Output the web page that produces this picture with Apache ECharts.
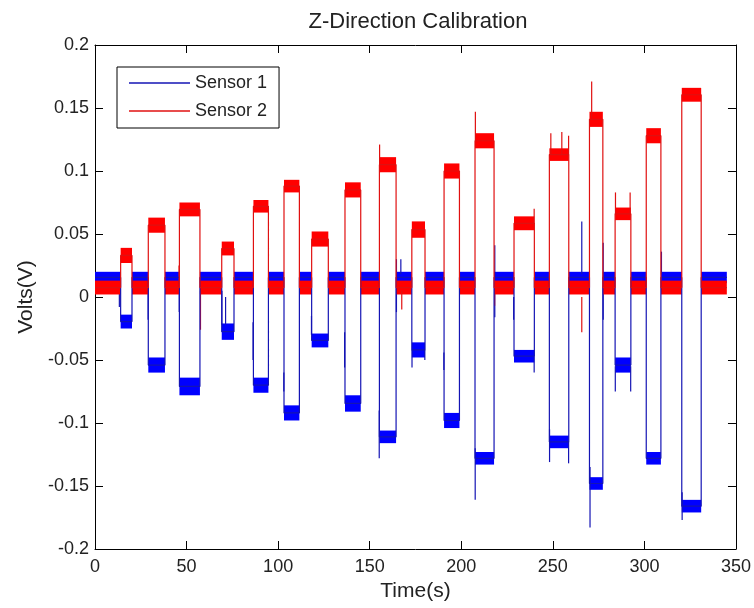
<!DOCTYPE html>
<html>
<head>
<meta charset="utf-8">
<title>Z-Direction Calibration</title>
<script src="https://cdn.jsdelivr.net/npm/echarts@6/dist/echarts.min.js"></script>
<style>
  html, body { margin: 0; padding: 0; background: #fff; }
  #chart { width: 754px; height: 608px; }
</style>
</head>
<body>
<div id="chart"></div>
<script>
// ---- data -------------------------------------------------------------
const seriesNames = ['Sensor 1', 'Sensor 2'];
const xTicks = [0, 50, 100, 150, 200, 250, 300, 350];
const yTicks = [-0.2, -0.15, -0.1, -0.05, 0, 0.05, 0.1, 0.15, 0.2];
const recordEnd = 345;

// load pulses: [start s, end s]
const pulseTimes = [
  [14.0, 20.2], [29.1, 38.2], [46.1, 57.3], [69.2, 75.9], [86.5, 94.7],
  [103.2, 111.6], [118.3, 127.4], [136.5, 145.1], [155.3, 164.4], [173.0, 180.2],
  [190.6, 199.0], [207.5, 217.9], [228.8, 239.9], [248.1, 258.7], [270.0, 277.3],
  [284.0, 292.6], [301.0, 309.0], [320.4, 331.0]
];

// plateau noise range during each pulse: [low V, high V]
const sensor1Levels = [
  [-0.025, -0.014], [-0.060, -0.048], [-0.078, -0.064], [-0.034, -0.021], [-0.076, -0.064],
  [-0.098, -0.086], [-0.040, -0.029], [-0.091, -0.078], [-0.116, -0.106], [-0.048, -0.036],
  [-0.104, -0.092], [-0.133, -0.123], [-0.052, -0.042], [-0.120, -0.110], [-0.153, -0.143],
  [-0.060, -0.048], [-0.133, -0.123], [-0.171, -0.161]
];
const sensor2Levels = [
  [0.027, 0.039], [0.051, 0.063], [0.064, 0.075], [0.033, 0.044], [0.067, 0.077],
  [0.083, 0.093], [0.040, 0.052], [0.079, 0.091], [0.099, 0.111], [0.047, 0.060],
  [0.094, 0.106], [0.118, 0.130], [0.053, 0.064], [0.108, 0.118], [0.135, 0.147],
  [0.061, 0.071], [0.122, 0.134], [0.155, 0.166]
];

// noise range with no load applied: [low V, high V]
const sensor1Rest = [0.011, 0.020];
const sensor2Rest = [0.002, 0.013];

// switching transients: [time s, from V, to V]
const sensor1Glitches = [
  [13.3, 0.010, -0.008], [29.0, 0.010, -0.018], [46.0, 0.010, -0.012],
  [69.3, 0.005, -0.022], [71.3, 0.000, -0.022], [86.3, -0.020, -0.050],
  [103.1, -0.060, -0.075], [118.2, -0.015, -0.030], [136.3, -0.028, -0.056],
  [155.2, -0.090, -0.128], [164.6, -0.012, 0.030], [167.0, 0.018, 0.030],
  [173.1, -0.042, -0.056], [180.1, -0.042, -0.050], [190.5, -0.044, -0.058],
  [207.6, -0.120, -0.161], [218.3, -0.016, 0.041], [228.6, 0.000, -0.018],
  [239.8, -0.047, -0.060], [248.2, -0.105, -0.131], [258.6, -0.115, -0.132],
  [265.8, 0.018, 0.060], [270.3, -0.135, -0.183], [277.5, -0.018, 0.043],
  [284.1, -0.055, -0.075], [292.5, -0.055, -0.075], [309.3, 0.018, 0.036],
  [320.6, -0.155, -0.177]
];
const sensor2Glitches = [
  [45.9, 0.012, 0.025], [57.6, 0.005, -0.026], [155.4, 0.099, 0.121],
  [167.5, 0.005, -0.010], [207.7, 0.124, 0.147], [218.2, 0.005, -0.007],
  [239.8, 0.058, 0.070], [248.9, 0.113, 0.130], [254.9, 0.113, 0.131],
  [258.6, 0.113, 0.128], [265.8, 0.000, -0.028], [271.2, 0.141, 0.171],
  [284.2, 0.066, 0.083], [292.2, 0.066, 0.083]
];

// ---- helpers ------------------------------------------------------------
// plateau bands [t0, t1, low, high] alternating rest / pulse
function buildBands(levels, rest) {
  const bands = [];
  let t = 0;
  pulseTimes.forEach(([a, b], i) => {
    bands.push([t, a, rest[0], rest[1]]);
    bands.push([a, b, levels[i][0], levels[i][1]]);
    t = b;
  });
  bands.push([t, recordEnd, rest[0], rest[1]]);
  return bands;
}
// step trace through the middle of every plateau
function buildTrace(bands) {
  const pts = [];
  bands.forEach(([a, b, lo, hi]) => {
    const m = (lo + hi) / 2;
    pts.push([a, m], [b, m]);
  });
  return pts;
}

const bandColors = ['#0000ff', '#ff0000'];
const lineColors = ['#1414b4', '#e01010'];
const bands1 = buildBands(sensor1Levels, sensor1Rest);
const bands2 = buildBands(sensor2Levels, sensor2Rest);

const font = "'Liberation Sans', Arial, Helvetica, sans-serif";
const textColor = '#222';

function bandSeries(name, data, color) {
  return {
    name: name, type: 'custom', data: data, clip: true, silent: true,
    encode: { x: [0, 1], y: [2, 3] },
    renderItem: function (params, api) {
      const p0 = api.coord([api.value(0), api.value(3)]);
      const p1 = api.coord([api.value(1), api.value(2)]);
      return {
        type: 'rect',
        shape: { x: p0[0], y: p0[1], width: p1[0] - p0[0], height: p1[1] - p0[1] },
        style: { fill: color }
      };
    }
  };
}
function glitchSeries(name, data, color) {
  return {
    name: name, type: 'custom', data: data, clip: true, silent: true,
    encode: { x: 0, y: [1, 2] },
    renderItem: function (params, api) {
      const p0 = api.coord([api.value(0), api.value(1)]);
      const p1 = api.coord([api.value(0), api.value(2)]);
      return {
        type: 'line',
        shape: { x1: p0[0], y1: p0[1], x2: p1[0], y2: p1[1] },
        style: { stroke: color, lineWidth: 1.2 }
      };
    }
  };
}
function traceSeries(name, data, color) {
  return {
    name: name, type: 'line', data: data, color: color,
    showSymbol: false, symbol: 'none', silent: true,
    lineStyle: { color: color, width: 1.2 }
  };
}

const frameAxis = {
  axisLine: { show: true, onZero: false, lineStyle: { color: '#000', width: 1 } },
  axisTick: { show: true, inside: true, length: 8, lineStyle: { color: '#000' } },
  splitLine: { show: false }
};

const option = {
  animation: false,
  backgroundColor: '#fff',
  title: {
    text: 'Z-Direction Calibration',
    left: 413, top: 6, textAlign: 'center',
    textStyle: { fontFamily: font, fontSize: 22, fontWeight: 'normal', color: textColor }
  },
  legend: {
    data: seriesNames,
    orient: 'vertical', left: 117, top: 67,
    icon: 'rect', itemWidth: 61, itemHeight: 1.5, itemGap: 10,
    padding: [7, 12, 8, 12],
    backgroundColor: '#fff', borderColor: '#000', borderWidth: 1, borderRadius: 0,
    selectedMode: false,
    textStyle: { fontFamily: font, fontSize: 18, color: textColor, lineHeight: 18 }
  },
  grid: { left: 95, right: 18, top: 45, bottom: 59, containLabel: false },
  xAxis: [
    Object.assign({
      type: 'value', position: 'bottom', min: xTicks[0], max: xTicks[xTicks.length - 1], interval: 50,
      name: 'Time(s)', nameLocation: 'middle', nameGap: 25,
      nameTextStyle: { fontFamily: font, fontSize: 21, color: textColor },
      axisLabel: { fontFamily: font, fontSize: 18, color: textColor, margin: 9 }
    }, frameAxis),
    Object.assign({
      type: 'value', position: 'top', min: xTicks[0], max: xTicks[xTicks.length - 1], interval: 50,
      axisLabel: { show: false }
    }, frameAxis)
  ],
  yAxis: [
    Object.assign({
      type: 'value', position: 'left', min: yTicks[0], max: yTicks[yTicks.length - 1], interval: 0.05,
      name: 'Volts(V)', nameLocation: 'middle', nameGap: 57, nameRotate: 90,
      nameTextStyle: { fontFamily: font, fontSize: 21, color: textColor },
      axisLabel: {
        fontFamily: font, fontSize: 18, color: textColor, margin: 6,
        formatter: function (v) { return String(Math.round(v * 100) / 100); }
      }
    }, frameAxis),
    Object.assign({
      type: 'value', position: 'right', min: yTicks[0], max: yTicks[yTicks.length - 1], interval: 0.05,
      axisLabel: { show: false }
    }, frameAxis)
  ],
  series: [
    bandSeries('Sensor 1 band', bands1, bandColors[0]),
    traceSeries(seriesNames[0], buildTrace(bands1), lineColors[0]),
    glitchSeries('Sensor 1 transients', sensor1Glitches, lineColors[0]),
    bandSeries('Sensor 2 band', bands2, bandColors[1]),
    traceSeries(seriesNames[1], buildTrace(bands2), lineColors[1]),
    glitchSeries('Sensor 2 transients', sensor2Glitches, lineColors[1])
  ]
};

const chart = echarts.init(document.getElementById('chart'), null, { renderer: 'canvas' });
chart.setOption(option);
</script>
</body>
</html>
